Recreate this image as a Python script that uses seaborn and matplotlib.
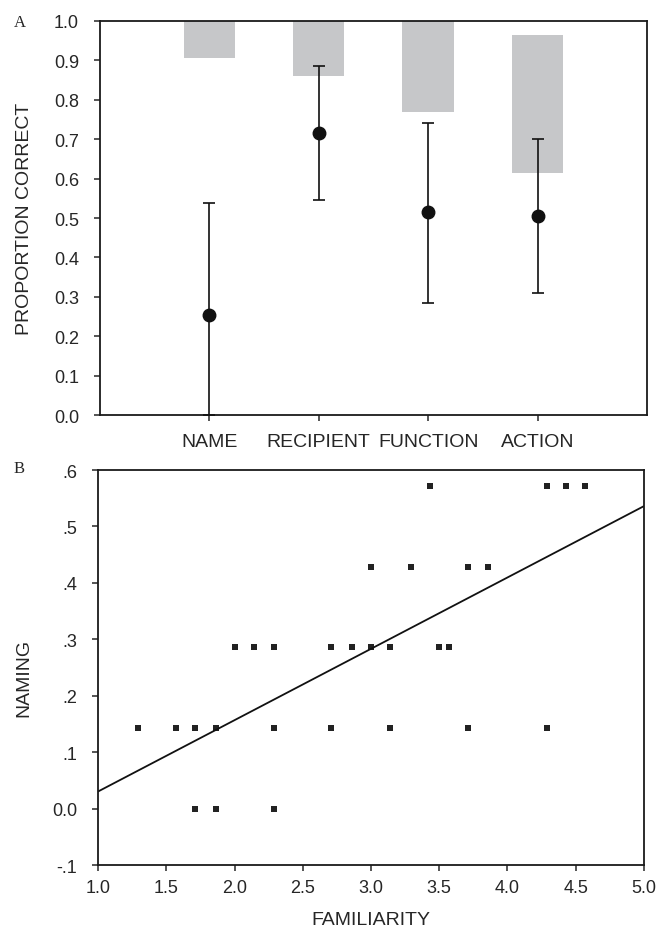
import numpy as np
import matplotlib
matplotlib.use("Agg")
import matplotlib.pyplot as plt
import seaborn as sns

# panel A data
categories = ["NAME", "RECIPIENT", "FUNCTION", "ACTION"]
bar_top = [1.0, 1.0, 1.0, 0.964]
bar_bottom = [0.906, 0.860, 0.768, 0.615]
point_mean = [0.255, 0.716, 0.514, 0.505]
err_low = [0.0, 0.546, 0.285, 0.310]
err_high = [0.539, 0.885, 0.742, 0.700]

# panel B data
familiarity = [3.43, 4.29, 4.43, 4.57,
               3.00, 3.29, 3.71, 3.86,
               2.00, 2.14, 2.29, 2.71, 2.86, 3.00, 3.14, 3.50, 3.57,
               1.29, 1.57, 1.71, 1.86, 2.29, 2.71, 3.14, 3.71, 4.29,
               1.71, 1.86, 2.29]
naming = [0.571] * 4 + [0.429] * 4 + [0.286] * 9 + [0.143] * 9 + [0.0] * 3
naming_ticks = [-0.1, 0.0, 0.1, 0.2, 0.3, 0.4, 0.5, 0.6]
naming_ticklabels = ["-.1", "0.0", ".1", ".2", ".3", ".4", ".5", ".6"]
fam_ticks = [1.0, 1.5, 2.0, 2.5, 3.0, 3.5, 4.0, 4.5, 5.0]

sns.set_style("ticks")
plt.rcParams["font.family"] = ["Liberation Sans", "DejaVu Sans"]
plt.rcParams["axes.linewidth"] = 1.3
plt.rcParams["axes.edgecolor"] = "#1a1a1a"

fig = plt.figure(figsize=(6.61, 9.28), dpi=100)
ax1 = fig.add_axes([0.151, 0.5514, 0.828, 0.4252])
ax2 = fig.add_axes([0.1486, 0.0668, 0.8254, 0.4256])

# ---- panel A
heights = np.array(bar_top) - np.array(bar_bottom)
sns.barplot(x=categories, y=heights, bottom=bar_bottom, color="#c6c7c9",
            saturation=1, width=0.47, errorbar=None, ax=ax1, linewidth=0)
pos = np.arange(len(categories))
mean = np.array(point_mean)
ax1.errorbar(pos, mean, yerr=[mean - np.array(err_low), np.array(err_high) - mean],
             fmt="o", color="#111111", markersize=9, elinewidth=1.2,
             capsize=4.5, capthick=1.2, clip_on=True, zorder=3)
ax1.set_xlim(-1, 4)
ax1.set_ylim(0, 1)
ax1.set_yticks(np.arange(0, 1.01, 0.1))
ax1.yaxis.set_major_formatter(matplotlib.ticker.FormatStrFormatter("%.1f"))
ax1.set_ylabel("PROPORTION CORRECT", fontsize=14)
ax1.set_xlabel("")
ax1.tick_params(axis="y", labelsize=13, length=4, width=1.1, pad=11)
ax1.tick_params(axis="x", labelsize=14, length=4, width=1.1, pad=9)
ax1.yaxis.set_label_coords(-0.122, 0.5)
for s in ax1.spines.values():
    s.set_visible(True)

# ---- panel B
ax2.set_xlim(1.0, 5.0)
ax2.set_ylim(-0.1, 0.6)
sns.regplot(x=familiarity, y=naming, ci=None, truncate=False, ax=ax2, marker="s",
            scatter_kws=dict(s=22, color="#222222", linewidths=0, alpha=1),
            line_kws=dict(color="#111111", linewidth=1.3))
ax2.set_xlim(1.0, 5.0)
ax2.set_ylim(-0.1, 0.6)
ax2.set_xticks(fam_ticks)
ax2.xaxis.set_major_formatter(matplotlib.ticker.FormatStrFormatter("%.1f"))
ax2.set_yticks(naming_ticks)
ax2.set_yticklabels(naming_ticklabels)
ax2.set_xlabel("FAMILIARITY", fontsize=14)
ax2.set_ylabel("NAMING", fontsize=14)
ax2.tick_params(axis="y", labelsize=13, length=4, width=1.1, pad=11)
ax2.tick_params(axis="x", labelsize=13, length=4, width=1.1, pad=6)
ax2.yaxis.set_label_coords(-0.121, 0.475)
ax2.xaxis.set_label_coords(0.5, -0.116)

fig.text(20 / 661, 1 - 23 / 928, "A", family=["Liberation Serif", "DejaVu Serif"],
         fontsize=12, ha="center", va="center")
fig.text(19.5 / 661, 1 - 469 / 928, "B", family=["Liberation Serif", "DejaVu Serif"],
         fontsize=12, ha="center", va="center")

fig.savefig("out.png", dpi=100)
